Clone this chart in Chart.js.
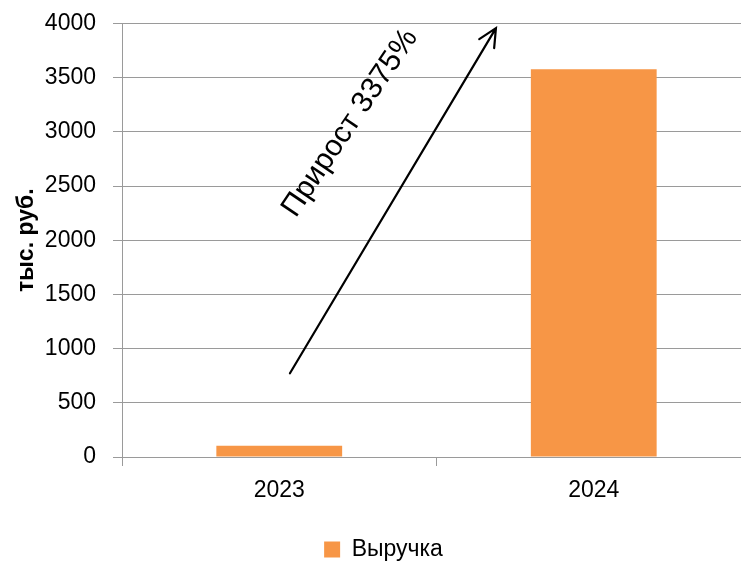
<!DOCTYPE html>
<html lang="ru">
<head>
<meta charset="utf-8">
<title>Выручка</title>
<script src="https://cdn.jsdelivr.net/npm/chart.js@4.4.1/dist/chart.umd.min.js"></script>
<style>
  html, body { margin: 0; padding: 0; background: #fff; overflow: hidden; }
  #wrap { position: absolute; left: 0; top: 0; width: 760px; height: 563px; }
</style>
</head>
<body>
<div id="wrap"><canvas id="rev" width="760" height="563"></canvas></div>
<script>
const years = ['2023', '2024'];
const revenue = [103, 3579];           // тыс. руб.
const growthLabel = 'Прирост 3375%';

const orange = '#F79646';
const gridGray = '#9a9a9a';
const font = 'Liberation Sans, Arial, sans-serif';

// arrow + caption between the two bars, placed in scale units
const growthArrow = {
  id: 'growthArrow',
  afterDatasetsDraw(chart) {
    const { ctx, scales: { x, y } } = chart;
    const x0 = x.getPixelForValue(0.034), y0 = y.getPixelForValue(773);
    const x1 = x.getPixelForValue(0.689), y1 = y.getPixelForValue(3957);
    const ang = Math.atan2(y1 - y0, x1 - x0);

    ctx.save();
    ctx.strokeStyle = '#000';
    ctx.lineWidth = 2.2;
    ctx.lineCap = 'round';
    ctx.beginPath();
    ctx.moveTo(x0, y0);
    ctx.lineTo(x1, y1);
    const head = 20, spread = Math.PI / 7;
    ctx.moveTo(x1 - head * Math.cos(ang - spread), y1 - head * Math.sin(ang - spread));
    ctx.lineTo(x1, y1);
    ctx.lineTo(x1 - head * Math.cos(ang + spread), y1 - head * Math.sin(ang + spread));
    ctx.stroke();

    ctx.translate(x.getPixelForValue(0.225), y.getPixelForValue(3081));
    ctx.rotate(-56 * Math.PI / 180);
    ctx.fillStyle = '#000';
    ctx.font = '30px ' + font;
    ctx.textAlign = 'center';
    ctx.textBaseline = 'middle';
    ctx.fillText(growthLabel, 0, 0);
    ctx.restore();
  }
};

// legend sits a little right of the plot centre
const legendNudge = {
  id: 'legendNudge',
  afterLayout(chart) {
    chart.legend.left += 8;
    chart.legend.right += 8;
  }
};

new Chart(document.getElementById('rev'), {
  type: 'bar',
  data: {
    labels: years,
    datasets: [{
      label: 'Выручка',
      data: revenue,
      backgroundColor: orange,
      barPercentage: 1,
      categoryPercentage: 0.4
    }]
  },
  options: {
    responsive: false,
    animation: false,
    devicePixelRatio: 1,
    layout: { padding: { top: 23.5, left: 0, right: 9, bottom: -8 } },
    plugins: {
      tooltip: { enabled: false },
      legend: {
        position: 'bottom',
        labels: {
          color: '#000',
          font: { family: font, size: 23 },
          boxWidth: 16,
          boxHeight: 16,
          padding: 3
        }
      }
    },
    scales: {
      x: {
        grid: { offset: true, drawOnChartArea: false, color: gridGray, tickLength: 9 },
        border: { color: gridGray },
        ticks: { color: '#000', font: { family: font, size: 23 }, padding: 11 },
        afterFit(scale) { scale.height = 78; }
      },
      y: {
        min: 0,
        max: 4000,
        ticks: {
          stepSize: 500,
          color: '#000',
          font: { family: font, size: 23 },
          padding: 17,
          callback: (v) => String(v)
        },
        grid: { color: gridGray, tickLength: 9 },
        border: { color: gridGray },
        title: {
          display: true,
          text: 'тыс. руб.',
          color: '#000',
          font: { family: font, size: 23, weight: 'bold' },
          padding: { top: 13, bottom: 0 }
        },
        afterFit(scale) {
          scale.width = 122;
          scale.paddingTop = 0;
          scale.paddingBottom = 0;
        }
      }
    }
  },
  plugins: [growthArrow, legendNudge]
});
</script>
</body>
</html>
